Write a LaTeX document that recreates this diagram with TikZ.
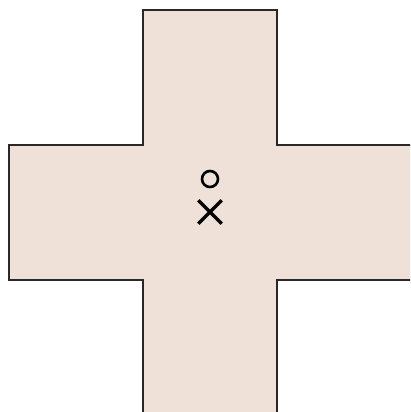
\documentclass[tikz,border=0pt]{standalone}
\usepackage{tikz}
\usetikzlibrary{shapes.misc}
\definecolor{crossfill}{RGB}{239,225,216}
\definecolor{crossedge}{RGB}{40,40,40}
\tikzset{
  crossline/.style={draw=crossedge,line width=1pt,line join=miter},
  omark/.style={draw=black,circle,inner sep=0pt,minimum size=0.32cm,line width=1.5pt},
  xmark/.style={draw=black,cross out,inner sep=0pt,minimum size=0.4cm,line width=1.9pt},
}
\begin{document}
\begin{tikzpicture}[x=0.02cm,y=-0.02cm]
        \useasboundingbox (0,0) rectangle (410,412);
        \clip (0,0) rectangle (410,412);
        % cross outline, right and bottom arms run off the page
        \filldraw[crossline,fill=crossfill]
          (143,10) -- (277,10) -- (277,145) -- (420,145) -- (420,280)
          -- (277,280) -- (277,420) -- (143,420) -- (143,280)
          -- (9,280) -- (9,145) -- (143,145) -- cycle;
        % centre markers
        \node[omark] (centroid) at (210,179) {};
        \node[xmark] (balance) at (210,212) {};
      \end{tikzpicture}
\end{document}
